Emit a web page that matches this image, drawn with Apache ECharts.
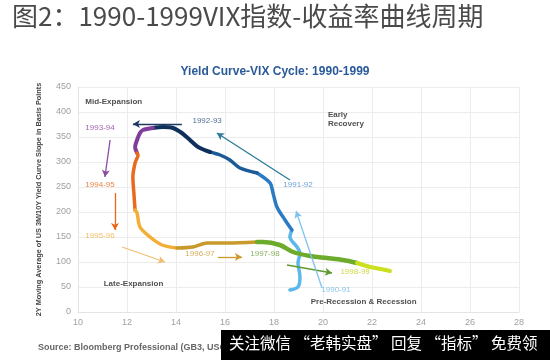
<!DOCTYPE html>
<html>
<head>
<meta charset="utf-8">
<script src="https://cdn.jsdelivr.net/npm/echarts@6/dist/echarts.min.js"></script>
<style>
  html, body { margin: 0; padding: 0; background: #fff; }
  #chart { width: 550px; height: 360px; }
</style>
</head>
<body>
<div id="chart"></div>
<script>
// cycle segments: [VIX 2Y avg %, 3M/10Y slope 2Y avg bp]
const seg9091 = [[18.65, 44], [18.98, 50], [19.06, 70], [18.98, 98], [19.06, 118], [18.94, 130], [18.65, 150], [18.73, 164]];
const seg9192 = [[18.73, 164], [18.45, 184], [18.12, 210], [17.96, 238], [17.84, 258], [17.31, 278]];
const seg9293a = [[17.31, 278], [16.61, 288], [16.2, 304], [15.8, 314], [15.39, 320]];
const seg9293b = [[15.39, 320], [14.9, 330], [14.57, 344], [14.24, 358], [13.88, 368], [13.47, 370], [13.06, 368]];
const seg9394 = [[13.06, 368], [12.65, 364], [12.53, 358], [12.41, 344], [12.33, 330], [12.41, 318]];
const seg9495 = [[12.41, 318], [12.45, 314], [12.33, 298], [12.24, 270], [12.28, 238], [12.33, 204]];
const seg9596 = [[12.33, 204], [12.41, 198], [12.53, 170], [12.94, 150], [13.43, 134], [14.04, 128]];
const seg9697 = [[14.04, 128], [14.69, 130], [15.27, 138], [16.08, 138], [17.31, 140]];
const seg9798 = [[17.31, 140], [17.55, 140], [18.24, 134], [18.78, 120], [19.47, 112], [20.16, 108], [20.82, 104], [21.39, 98]];
const seg9899 = [[21.39, 98], [21.92, 90], [22.35, 86], [22.73, 82]];

const segColors = ['#5cb8ea', '#2b7bc4', '#1d5a98', '#10305c', '#803d9c', '#ea6a1c', '#f2ae36', '#c99a2a', '#6cab2c', '#cbe01e'];
const segWidths = [3.5, 3.5, 3.5, 4, 4, 3.5, 3.5, 3.5, 4.5, 4];

// period labels: text, x, y, colour
const labelNames = ['1993-94', '1994-95', '1995-96', '1996-97', '1997-98', '1998-99', '1990-91', '1991-92', '1992-93'];
const labelX = [10.9, 10.9, 10.9, 14.98, 17.63, 21.31, 20.53, 18.98, 15.27];
const labelY = [368, 254, 152, 116, 116, 80, 44, 254, 382];
const labelColors = ['#8a3a9c', '#e8661a', '#f0b040', '#c89a30', '#6a9a3a', '#c4cc1c', '#6ab8e8', '#4a8ad0', '#2a4a7a'];

// phase labels
const phaseNames = ['Mid-Expansion', 'Early\nRecovery', 'Late-Expansion', 'Pre-Recession & Recession'];
const phaseX = [10.3, 20.2, 11.05, 19.5];
const phaseY = [420, 386, 56, 20];

// arrows: from [x, y] to [x, y]
const arrowFrom = [[11.31, 344], [11.51, 238], [11.8, 130], [15.71, 110], [18.53, 94], [19.96, 48], [18.65, 264], [14.24, 376]];
const arrowTo = [[11.1, 270], [11.51, 164], [13.55, 100], [16.69, 110], [20.37, 78], [18.9, 202], [15.67, 358], [12.24, 376]];
const arrowColors = ['#8a4aa0', '#e8661a', '#eec070', '#c99a2a', '#5f9a30', '#7cc4ee', '#2a7a9a', '#1f3a60'];

const chart = echarts.init(document.getElementById('chart'));

const segments = [seg9091, seg9192, seg9293a, seg9293b, seg9394, seg9495, seg9596, seg9697, seg9798, seg9899];

const lineSeries = segments.map((seg, i) => ({
  type: 'line',
  data: seg,
  smooth: 0.3,
  symbol: 'none',
  lineStyle: { color: segColors[i], width: segWidths[i], cap: 'round', join: 'round' },
  z: 3
}));

const labelData = labelNames.map((n, i) => ({
  name: n,
  value: [labelX[i], labelY[i]],
  label: { color: labelColors[i] }
}));

const phaseData = phaseNames.map((n, i) => ({
  name: n,
  value: [phaseX[i], phaseY[i]]
}));

const arrowData = arrowFrom.map((f, i) => [
  { coord: f, lineStyle: { color: arrowColors[i], width: 1.3, type: 'solid' } },
  { coord: arrowTo[i] }
]);

const option = {
  animation: false,
  title: {
    text: 'Yield Curve-VIX Cycle: 1990-1999',
    left: 'center',
    top: 61,
    textStyle: { fontFamily: 'Liberation Sans', fontSize: 12, fontWeight: 'bold', color: '#2a5a9a' }
  },
  grid: { left: 78, right: 31, top: 87, bottom: 48 },
  xAxis: {
    type: 'value',
    min: 10, max: 28, interval: 2,
    name: '2Y Moving Average of VIX in %',
    nameLocation: 'middle',
    nameGap: 14,
    nameTextStyle: { fontFamily: 'Liberation Sans', fontSize: 7, fontWeight: 'bold', color: '#444' },
    axisLine: { show: true, lineStyle: { color: '#e4e4e4' } },
    axisTick: { show: false },
    axisLabel: { fontFamily: 'Liberation Sans', fontSize: 9, color: '#a0a0a0', margin: 6 },
    splitLine: { lineStyle: { color: '#ececec' } }
  },
  yAxis: {
    type: 'value',
    min: 0, max: 450, interval: 50,
    name: '2Y Moving Average of US 3M/10Y Yield Curve Slope in Basis Points',
    nameLocation: 'middle',
    nameGap: 36,
    nameTextStyle: { fontFamily: 'Liberation Sans', fontSize: 7.3, fontWeight: 'bold', color: '#444' },
    axisLine: { show: true, lineStyle: { color: '#e4e4e4' } },
    axisTick: { show: false },
    axisLabel: { fontFamily: 'Liberation Sans', fontSize: 9, color: '#a0a0a0', margin: 7 },
    splitLine: { lineStyle: { color: '#ececec' } }
  },
  series: lineSeries.concat([
    {
      type: 'scatter',
      data: labelData,
      symbolSize: 0,
      silent: true,
      z: 4,
      label: {
        show: true,
        position: 'inside',
        formatter: '{b}',
        fontFamily: 'Liberation Sans',
        fontSize: 8
      },
      markLine: {
        silent: true,
        symbol: ['none', 'arrow'],
        symbolSize: [6, 7],
        label: { show: false },
        data: arrowData
      }
    },
    {
      type: 'scatter',
      data: phaseData,
      symbolSize: 0,
      silent: true,
      z: 4,
      label: {
        show: true,
        position: 'right',
        distance: 0,
        formatter: '{b}',
        fontFamily: 'Liberation Sans',
        fontSize: 8,
        fontWeight: 'bold',
        color: '#222',
        lineHeight: 9
      }
    }
  ]),
  graphic: [
    {
      type: 'text',
      left: 12,
      top: 3,
      style: {
        text: '图2：1990-1999VIX指数-收益率曲线周期',
        font: '26px "Noto Sans CJK SC"',
        fill: '#4a4a4a'
      }
    },
    {
      type: 'text',
      left: 38,
      top: 343,
      style: {
        text: 'Source: Bloomberg Professional (GB3, USGG10YR, VIX)',
        font: 'bold 9px "Liberation Sans"',
        fill: '#666'
      }
    },
    {
      type: 'rect',
      left: 221,
      top: 330,
      z: 100,
      shape: { width: 329, height: 30 },
      style: { fill: '#000' }
    },
    {
      type: 'text',
      left: 229,
      top: 335,
      z: 101,
      style: {
        text: '关注微信 “老韩实盘” 回复 “指标” 免费领',
        font: '15.5px "Noto Sans CJK SC"',
        fill: '#fff'
      }
    }
  ]
};

chart.setOption(option);
</script>
</body>
</html>
